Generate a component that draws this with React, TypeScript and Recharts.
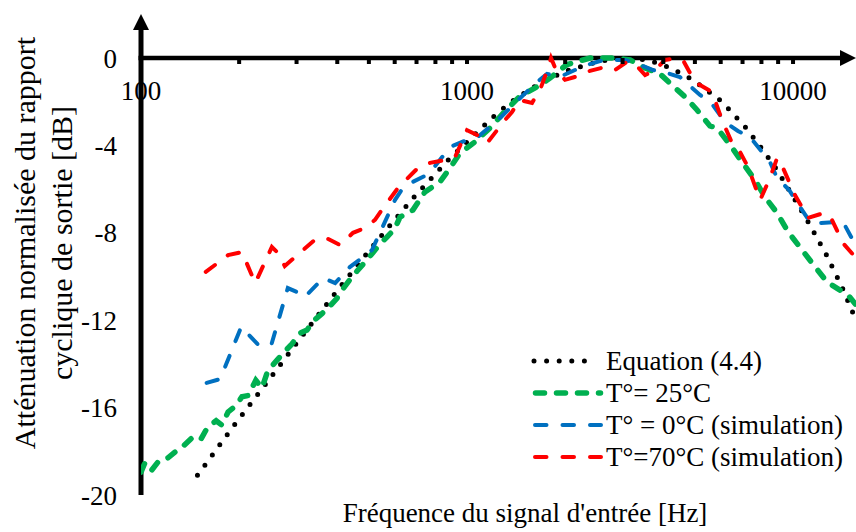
import React from 'react';
import { LineChart, Line, XAxis, YAxis, Legend, Customized } from 'recharts';

const FONT = 'Liberation Serif';
const CHART_W = 856;
const CHART_H = 532;
const MARGIN = { top: 57, right: 0, bottom: 37, left: 140 };
const PLOT_TOP = 58;
const PLOT_LEFT = 141;
const PLOT_BOTTOM = CHART_H - MARGIN.bottom;

// Axis ticks
const xTickValues = [100, 200, 300, 400, 500, 600, 700, 800, 900, 1000, 2000, 3000, 4000, 5000, 6000, 7000, 8000, 9000, 10000];
const xLabelValues = [100, 1000, 10000];
const yTickValues = [0, -4, -8, -12, -16, -20];
const xDomain = [100, 15600];
const yDomain = [-20, 0];

// Equation (4.4)
const eqFreq = [149, 191, 249, 307, 399, 497, 589, 692, 875, 993, 1202, 1365, 1582, 2000, 2500, 2950, 3590, 4226, 4936, 6054, 7175, 8035, 8935, 9727, 11125, 12620, 14130, 15600];
const eqDb = [-19.1, -16.9, -14.65, -12.86, -10.66, -8.88, -7.55, -6.32, -4.67, -3.89, -2.7, -2.01, -1.37, -0.6, -0.18, 0, -0.09, -0.46, -1.0, -2.0, -3.2, -4.16, -5.13, -6.04, -7.5, -8.97, -10.48, -12.0];

// T° = 25°C
const g25Freq = [100, 103, 108, 114, 121, 128, 135, 143, 152, 160, 170, 177, 185, 196, 204, 213, 225, 235, 245, 259, 275, 290, 307, 323, 340, 359, 380, 399, 417, 437, 460, 486, 515, 541, 568, 601, 623, 682, 743, 826, 887, 952, 1058, 1177, 1308, 1455, 1617, 1797, 1928, 2026, 2383, 2843, 3164, 3517, 3910, 4254, 4665, 5077, 5560, 5848, 6412, 6977, 7640, 8200, 8935, 9660, 10664, 11440, 12710, 13930, 14750, 15600];
const g25Db = [-18.95, -18.5, -18.85, -18.4, -18.3, -18.0, -17.75, -17.4, -17.5, -16.9, -16.6, -16.8, -16.2, -15.9, -15.5, -15.45, -14.75, -15.1, -14.3, -13.9, -13.45, -13.1, -12.6, -12.45, -12.0, -11.7, -11.35, -11.0, -10.55, -10.15, -9.75, -9.35, -8.9, -8.5, -8.2, -7.8, -7.28, -6.96, -6.13, -5.67, -5.03, -4.35, -3.84, -3.2, -2.43, -1.74, -1.37, -0.92, -0.55, -0.3, 0, 0, -0.09, -0.46, -0.73, -1.24, -1.78, -2.38, -3.11, -3.2, -3.98, -4.76, -5.58, -6.36, -7.09, -7.96, -8.79, -9.38, -10.25, -10.62, -10.85, -11.3];

// T° = 0°C (simulation)
const t0Freq = [159, 175, 203, 229, 251, 282, 301, 318, 362, 394, 437, 486, 511, 560, 601, 636, 682, 753, 803, 887, 1000, 1081, 1245, 1403, 1640, 1760, 1955, 2143, 2333, 2558, 2843, 3053, 3275, 3721, 4108, 4497, 4830, 5185, 5643, 6180, 6776, 7380, 8035, 8497, 8935, 9727, 10508, 11270, 12100, 14230, 15600];
const t0Db = [-14.87, -14.69, -12.3, -13.13, -13.13, -10.53, -10.71, -10.94, -10.07, -10.3, -9.57, -9.06, -8.79, -7.5, -6.5, -5.95, -5.67, -5.35, -4.9, -4.07, -3.75, -3.6, -2.84, -2.06, -1.1, -0.73, -0.82, -0.55, -0.32, -0.14, -0.09, -0.09, -0.23, -0.55, -0.69, -0.87, -1.28, -1.69, -2.1, -2.93, -3.34, -3.62, -4.3, -4.76, -5.49, -6.04, -6.82, -7.5, -7.55, -7.5, -8.6];

// T° = 70°C (simulation)
const t70Freq = [158, 185, 204, 224, 252, 263, 276, 344, 375, 408, 447, 486, 522, 553, 614, 707, 770, 856, 919, 1000, 1073, 1152, 1308, 1374, 1454, 1583, 1687, 1773, 1810, 1875, 1998, 2143, 2383, 2649, 2843, 3096, 3275, 3517, 3774, 4046, 4436, 4630, 5000, 5643, 6054, 6500, 6875, 7280, 7925, 8497, 8935, 9316, 10135, 11125, 12447, 12990, 14230, 15600];
const t70Db = [-9.79, -9.02, -8.88, -10.3, -8.65, -8.92, -9.52, -8.28, -8.28, -8.56, -8.0, -7.78, -7.41, -6.87, -5.95, -5.03, -4.8, -4.67, -4.53, -3.3, -3.52, -3.89, -2.84, -2.47, -1.92, -2.06, -1.33, -0.46, 0, -0.55, -1.0, -0.87, -0.59, -0.41, -0.55, -0.18, -0.27, -0.78, -0.55, -0.09, 0, -0.18, -1.1, -1.56, -2.84, -3.89, -4.3, -4.99, -6.5, -5.49, -4.58, -5.03, -6.27, -7.32, -7.09, -7.23, -8.47, -9.15];

const seriesNames = ['Equation (4.4)', 'T°= 25°C', 'T° = 0°C (simulation)', 'T°=70°C (simulation)'];

const toRows = (freq: number[], db: number[]) => freq.map((f, i) => ({ f, db: db[i] }));

const seriesData = [toRows(eqFreq, eqDb), toRows(g25Freq, g25Db), toRows(t0Freq, t0Db), toRows(t70Freq, t70Db)];

const seriesStyles = [
  { color: '#000000', width: 5, dash: '0 12.6', cap: 'round', lx1: 14, lx2: 77 },
  { color: '#00B050', width: 5.5, dash: '9 12', cap: 'round', lx1: 15.5, lx2: 80.5 },
  { color: '#0070C0', width: 4, dash: '11.5 16', cap: 'round', lx1: 15, lx2: 81 },
  { color: '#FF0000', width: 4, dash: '11.5 16', cap: 'round', lx1: 15, lx2: 81 },
];

const textStyle = { fontFamily: FONT };

function XTick(props: any) {
  const { x, payload } = props;
  const v = payload.value;
  return (
    <g>
      <rect x={x - 2} y={PLOT_TOP} width={4} height={6} fill="#000" />
      {xLabelValues.includes(v) && (
        <text x={x} y={PLOT_TOP + 42} textAnchor="middle" fontSize={27} style={textStyle} fill="#000">
          {v}
        </text>
      )}
    </g>
  );
}

function YTick(props: any) {
  const { x, y, payload } = props;
  return (
    <text x={x} y={y + 9.5} textAnchor="end" fontSize={27} style={textStyle} fill="#000">
      {payload.value}
    </text>
  );
}

function Decor() {
  const L = PLOT_LEFT;
  const T = PLOT_TOP;
  return (
    <g>
      <line x1={L - 2.5} y1={T} x2={844} y2={T} stroke="#000" strokeWidth={4.5} />
      <polygon points={`840,${T - 8} 856,${T} 840,${T + 8}`} fill="#000" />
      <line x1={L} y1={26} x2={L} y2={PLOT_BOTTOM} stroke="#000" strokeWidth={5} />
      <polygon points={`${L - 8},30 ${L},14 ${L + 8},30`} fill="#000" />
      <text x={525} y={522} textAnchor="middle" fontSize={27} style={textStyle} fill="#000">
        Fréquence du signal d'entrée [Hz]
      </text>
      <text transform="rotate(-90 35 243)" x={35} y={243} textAnchor="middle" fontSize={30} style={textStyle} fill="#000">
        Atténuation normalisée du rapport
      </text>
      <text transform="rotate(-90 72 243)" x={72} y={243} textAnchor="middle" fontSize={30} style={textStyle} fill="#000">
        cyclique de sortie [dB]
      </text>
    </g>
  );
}

function LegendBox() {
  return (
    <svg width={330} height={130} style={{ display: 'block', overflow: 'visible' }}>
      {seriesNames.map((name, i) => {
        const s = seriesStyles[i];
        const cy = 16 + i * 32;
        return (
          <g key={name}>
            <line x1={s.lx1} x2={s.lx2} y1={cy} y2={cy} stroke={s.color} strokeWidth={s.width} strokeDasharray={s.dash} strokeLinecap={s.cap as any} />
            <text x={86} y={cy + 9} fontSize={27} style={textStyle} fill="#000">
              {name}
            </text>
          </g>
        );
      })}
    </svg>
  );
}

export default function App() {
  return (
    <div style={{ position: 'absolute', left: 0, top: 0, width: CHART_W, height: CHART_H, background: '#fff', fontFamily: FONT }}>
      <LineChart width={CHART_W} height={CHART_H} margin={MARGIN}>
        <XAxis
          type="number"
          dataKey="f"
          scale="log"
          domain={xDomain}
          allowDataOverflow
          orientation="top"
          height={1}
          ticks={xTickValues}
          interval={0}
          axisLine={false}
          tickLine={false}
          tickSize={0}
          tickMargin={0}
          tick={<XTick />}
        />
        <YAxis
          type="number"
          domain={yDomain}
          ticks={yTickValues}
          interval={0}
          width={1}
          axisLine={false}
          tickLine={false}
          tickSize={0}
          tickMargin={24}
          tick={<YTick />}
        />
        {seriesData.map((data, i) => (
          <Line
            key={seriesNames[i]}
            data={data}
            dataKey="db"
            name={seriesNames[i]}
            type="linear"
            stroke={seriesStyles[i].color}
            strokeWidth={seriesStyles[i].width}
            strokeDasharray={seriesStyles[i].dash}
            strokeLinecap={seriesStyles[i].cap as any}
            dot={false}
            activeDot={false}
            isAnimationActive={false}
          />
        ))}
        <Customized component={Decor} />
        <Legend
          layout="vertical"
          align="center"
          verticalAlign="middle"
          content={<LegendBox />}
          wrapperStyle={{ position: 'absolute', left: 520, top: 345, width: 330, height: 130 }}
        />
      </LineChart>
    </div>
  );
}
